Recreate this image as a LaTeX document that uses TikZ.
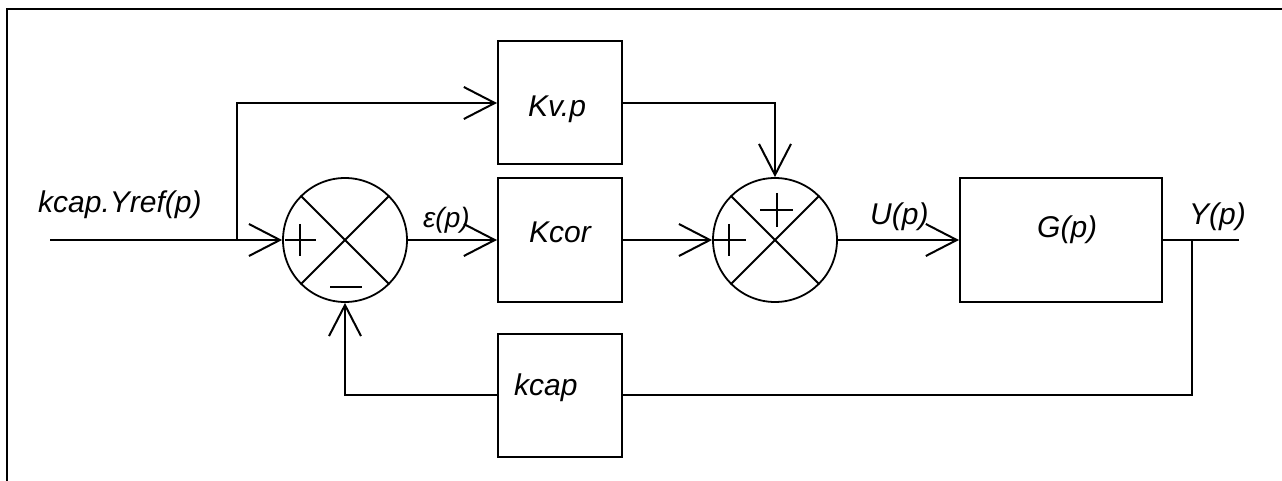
\documentclass[tikz,border=0pt]{standalone}
\usepackage{fontspec}
\setmainfont{Liberation Sans}
\usetikzlibrary{arrows.meta}
\begin{document}
\begin{tikzpicture}[x=1pt,y=-1pt,
  ln/.style={line width=2pt},
  arr/.style={ln,-{Straight Barb[length=31pt,width=32pt,line width=2pt]}},
  blk/.style={draw,line width=2pt,rectangle,inner sep=0pt},
  sumnode/.style={draw,line width=1.8pt,circle,minimum size=124pt,inner sep=0pt},
  lbl/.style={inner sep=0pt,anchor=base west,font=\fontsize{30}{36}\selectfont\itshape}]
\useasboundingbox (0,0) rectangle (1282,481);
\draw[line width=2.2pt] (7,481) -- (7,9) -- (1282,9);
% blocks
\node[blk,minimum width=124pt,minimum height=123pt] (kv) at (560,103) {};
\node[blk,minimum width=124pt,minimum height=124pt] (kcor) at (560,240) {};
\node[blk,minimum width=124pt,minimum height=123pt] (kcap) at (560,395) {};
\node[blk,minimum width=202pt,minimum height=124pt] (g) at (1061,240) {};
% summers
\node[sumnode] (s1) at (345,240) {};
\node[sumnode] (s2) at (775,240) {};
\foreach \s in {s1,s2}{
  \draw[line width=1.8pt] (\s.45) -- (\s.225) (\s.135) -- (\s.-45);
}
\draw[line width=1.8pt] (300,224) -- (300,256) (285,240) -- (316,240);
\draw[line width=2.2pt] (330,287) -- (362,287);
\draw[line width=1.8pt] (729,224) -- (729,256) (713,240) -- (746,240);
\draw[line width=1.8pt] (777,193) -- (777,227) (760,210) -- (793,210);
% texts
\node[lbl] (tin) at (38,212) {kcap.Yref(p)};
\node[lbl,font=\fontsize{28}{34}\selectfont\itshape] (teps) at (423,227) {ε(p)};
\node[lbl] (tkv) at (528,117) {Kv.p};
\node[lbl] (tkcor) at (529,242) {Kcor};
\node[lbl] (tkcap) at (514,395) {kcap};
\node[lbl] (tu) at (870,225) {U(p)};
\node[lbl] (tg) at (1037,237) {G(p)};
\node[lbl] (ty) at (1189,225) {Y(p)};
% connectors
\coordinate (in) at (50,240);
\coordinate (b1) at (237,240);
\coordinate (out) at (1239,240);
\coordinate (b2) at (1192,240);
\draw[arr] (in) -- (s1.west);
\draw[arr] (b1) |- (kv.west);
\draw[arr] (s1.east) -- (kcor.west);
\draw[arr] (kcor.east) -- (s2.west);
\draw[arr] (kv.east) -| (s2.north);
\draw[arr] (s2.east) -- (g.west);
\draw[ln] (g.east) -- (out);
\draw[ln] (b2) |- (kcap.east);
\draw[arr] (kcap.west) -| (s1.south);
\end{tikzpicture}
\end{document}
